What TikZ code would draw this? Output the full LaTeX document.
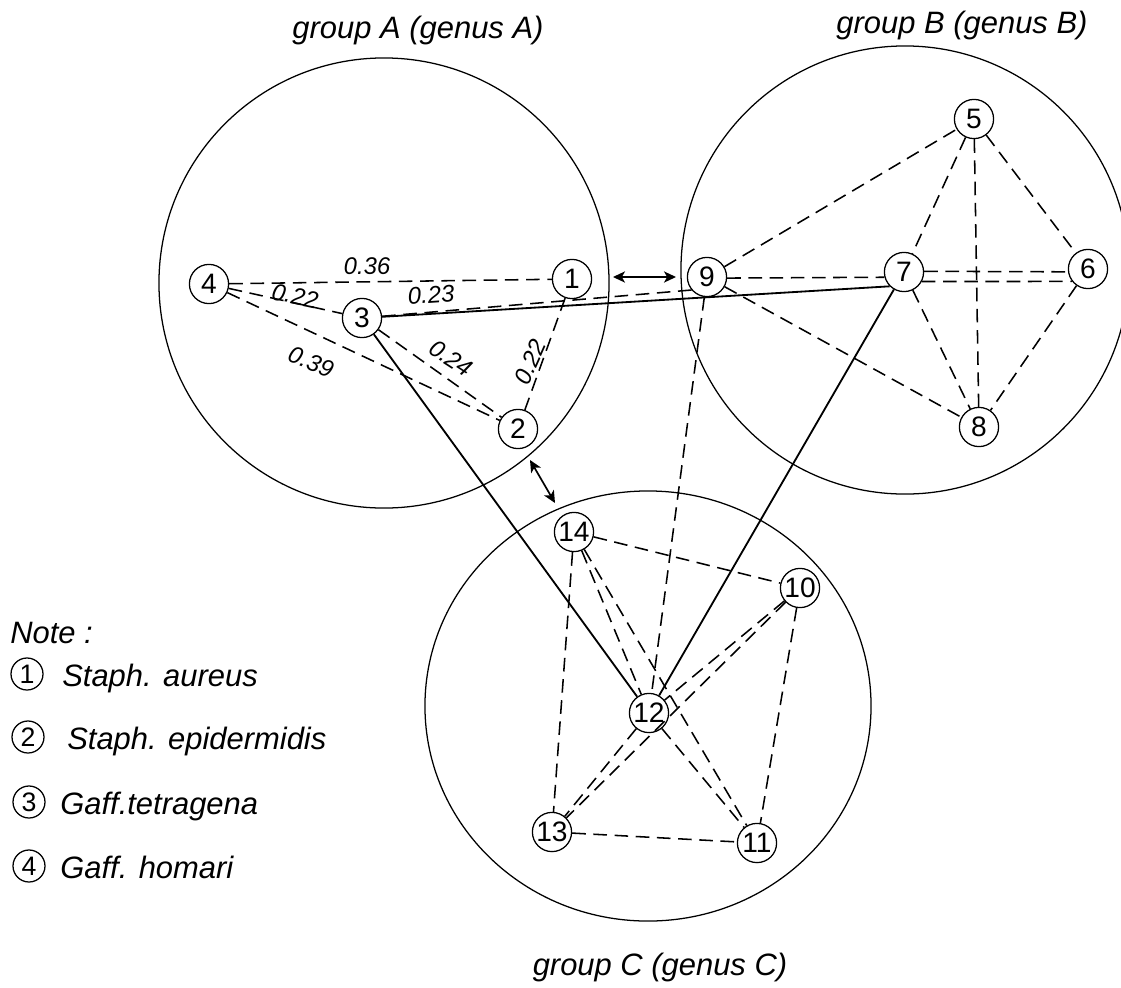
\documentclass[tikz,border=0pt]{standalone}
\usepackage{fontspec}
\setmainfont{Liberation Sans}
\usetikzlibrary{arrows.meta}
\begin{document}
\begin{tikzpicture}[x=0.025cm,y=-0.025cm,
  nd/.style={circle,draw,line width=0.9pt,minimum size=0.98cm,inner sep=0pt,font=\fontsize{20}{20}\selectfont},
  nn/.style={circle,draw,line width=0.9pt,minimum size=0.8cm,inner sep=0pt,font=\fontsize{19}{19}\selectfont},
  grp/.style={draw,line width=0.9pt},
  dl/.style={line width=1.1pt,dash pattern=on 0.34cm off 0.19cm},
  sl/.style={line width=1.3pt},
  lab/.style={font=\fontsize{17}{17}\selectfont\itshape,inner sep=0pt},
  hd/.style={font=\fontsize{22}{22}\selectfont\itshape,inner sep=0pt},
  arr/.style={line width=1.2pt,{Stealth[length=0.3cm,width=0.28cm,inset=0.08cm]}-{Stealth[length=0.3cm,width=0.28cm,inset=0.08cm]}}
]
\useasboundingbox (0,0) rectangle (1121,988);

% group circles
\draw[grp] (384,283) circle[radius=5.625cm];
\draw[grp] (905,270) circle[radius=5.6cm];
\draw[grp] (648,706) ellipse[x radius=5.575cm, y radius=5.375cm];

% group labels
\node[hd,anchor=base] (ga) at (418,38) {group A (genus A)};
\node[hd,anchor=base] (gb) at (962,33) {group B (genus B)};
\node[hd,anchor=base] (gc) at (660,975) {group C (genus C)};

% nodes
\node[nd] (n1) at (572,279) {1};
\node[nd] (n2) at (518,429) {2};
\node[nd] (n3) at (362,318) {3};
\node[nd] (n4) at (209,284) {4};
\node[nd] (n5) at (974,119) {5};
\node[nd] (n6) at (1088,269) {6};
\node[nd] (n7) at (904,272) {7};
\node[nd] (n8) at (979,427) {8};
\node[nd] (n9) at (707,277) {9};
\node[nd] (n10) at (800,588) {10};
\node[nd] (n11) at (757,843) {11};
\node[nd] (n12) at (649,713) {12};
\node[nd] (n13) at (552,832) {13};
\node[nd] (n14) at (574,532) {14};

% group A dashed edges
\draw[dl] (n4) -- (n1);
\draw[dl] (n4) -- (n3);
\draw[dl] (n4) -- (n2);
\draw[dl] (n3) -- (n9.220);
\draw[dl] (n3) -- (n2);
\draw[dl] (n1) -- (n2);

% group B dashed edges
\draw[dl] (n9) -- (n5);
\draw[dl] (n9.-3) -- (n7.195);
\draw[dl] (n9) -- (n8);
\draw[dl] (n5) -- (n7);
\draw[dl] (n5) -- (n6);
\draw[dl] (n5) -- (n8);
\draw[dl] (n7.2) -- (n6.188);
\draw[dl] (n7.-28) -- (n6.218);
\draw[dl] (n7) -- (n8);
\draw[dl] (n6) -- (n8);
\draw[dl] (n9) -- (n12);

% group C dashed edges
\draw[dl] (n14) -- (n10);
\draw[dl] (n14) -- (n13);
\draw[dl] (n14) -- (n12);
\draw[dl] (n14) -- (n11);
\draw[dl] (n10) -- (n12);
\draw[dl] (n10) -- (n13);
\draw[dl] (n10) -- (n11);
\draw[dl] (n12) -- (n13);
\draw[dl] (n12) -- (n11);
\draw[dl] (n13) -- (n11);

% solid edges
\draw[sl] (n3) -- (n7.225);
\draw[sl] (n3) -- (n12);
\draw[sl] (n7) -- (n12);

% edge labels
\node[lab,rotate=1] (l1) at (367,266) {0.36};
\node[lab,rotate=-12] (l2) at (295,296) {0.22};
\node[lab,rotate=4] (l3) at (431,295) {0.23};
\node[lab,rotate=-22] (l4) at (311,362) {0.39};
\node[lab,rotate=-33] (l5) at (451,358) {0.24};
\node[lab,rotate=66] (l6) at (530,362) {0.22};

% double arrows between groups
\coordinate (ab1) at (613,277);
\coordinate (ab2) at (676,277);
\coordinate (ac1) at (530,460);
\coordinate (ac2) at (555,503);
\draw[arr] (ab1) -- (ab2);
\draw[arr] (ac1) -- (ac2);

% note
\node[hd,anchor=base west] (note) at (10,643) {Note :};
\node[nn] (k1) at (27,674) {1};
\node[hd,anchor=base west] (t1) at (62,686) {Staph. aureus};
\node[nn] (k2) at (28,737) {2};
\node[hd,anchor=base west] (t2) at (67,749) {Staph. epidermidis};
\node[nn] (k3) at (29,802) {3};
\node[hd,anchor=base west] (t3) at (60,814) {Gaff.tetragena};
\node[nn] (k4) at (29,866) {4};
\node[hd,anchor=base west] (t4) at (60,878) {Gaff. homari};
\end{tikzpicture}
\end{document}
